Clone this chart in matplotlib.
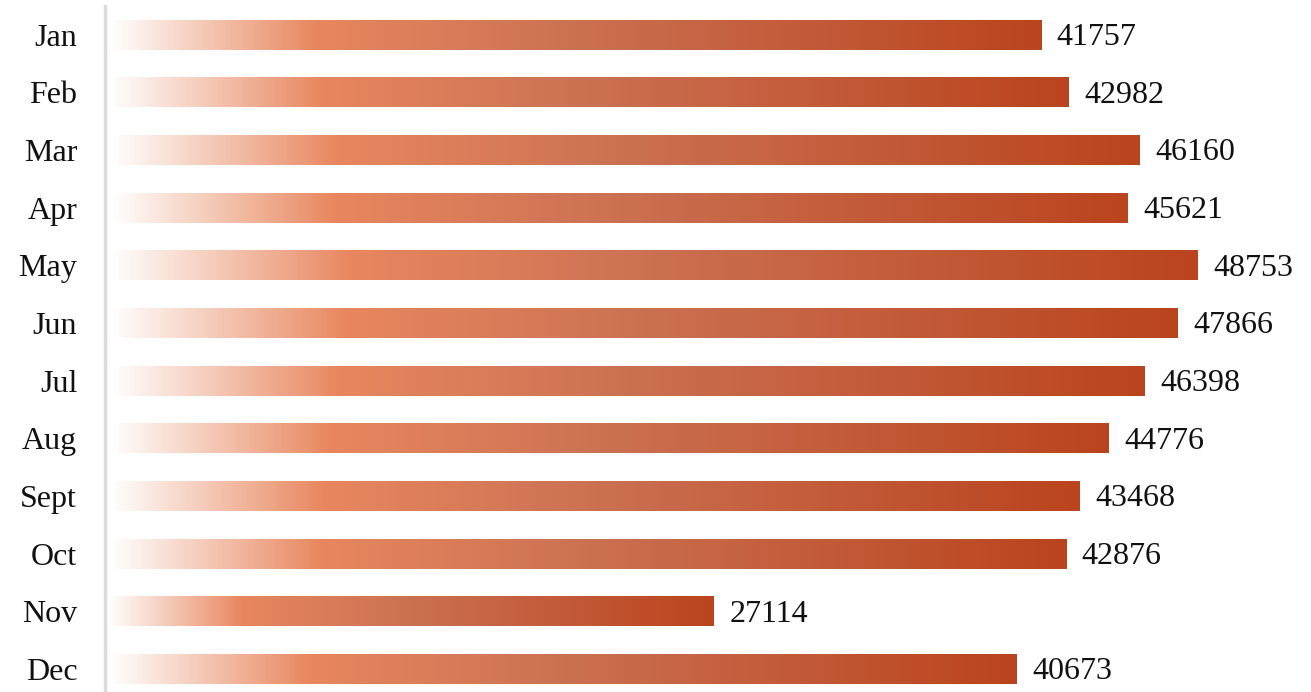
import matplotlib.pyplot as plt
import numpy as np
from matplotlib.colors import LinearSegmentedColormap

months = ['Jan', 'Feb', 'Mar', 'Apr', 'May', 'Jun', 'Jul', 'Aug', 'Sept', 'Oct', 'Nov', 'Dec']
totals = [41757, 42982, 46160, 45621, 48753, 47866, 46398, 44776, 43468, 42876, 27114, 40673]

# white -> bright orange -> muted clay -> rust along each bar
cmap = LinearSegmentedColormap.from_list('rust', [
    (0.0, '#ffffff'),
    (0.22, '#e8875f'),
    (0.5, '#cb7152'),
    (1.0, '#ba441e'),
])
grad = np.linspace(0, 1, 256).reshape(1, -1)

plt.rcParams['font.family'] = ['Liberation Serif', 'DejaVu Serif']

fig = plt.figure(figsize=(13.11, 6.92), dpi=100)
ax = fig.add_axes([105 / 1311, 0, 1 - 105 / 1311, 686 / 692])

bar_h = 0.52
for i, v in enumerate(totals):
    ax.imshow(grad, cmap=cmap, extent=[0, v, i + bar_h / 2, i - bar_h / 2],
              aspect='auto', interpolation='bilinear', zorder=2)
    ax.text(v + 700, i + 0.05, str(v), va='center', ha='left', fontsize=23, color='#111111')

ax.set_xlim(-134, 53830)
ax.set_ylim(11.4, -0.5)
ax.set_aspect('auto')

ax.set_yticks(range(len(months)))
ax.set_yticklabels(months, fontsize=23, color='#111111')
ax.tick_params(axis='y', length=0, pad=20)
ax.set_xticks([])

for s in ['top', 'right', 'bottom']:
    ax.spines[s].set_visible(False)
ax.spines['left'].set_color('#dcdcdc')
ax.spines['left'].set_linewidth(2.5)

fig.savefig('out.png', dpi=100)
